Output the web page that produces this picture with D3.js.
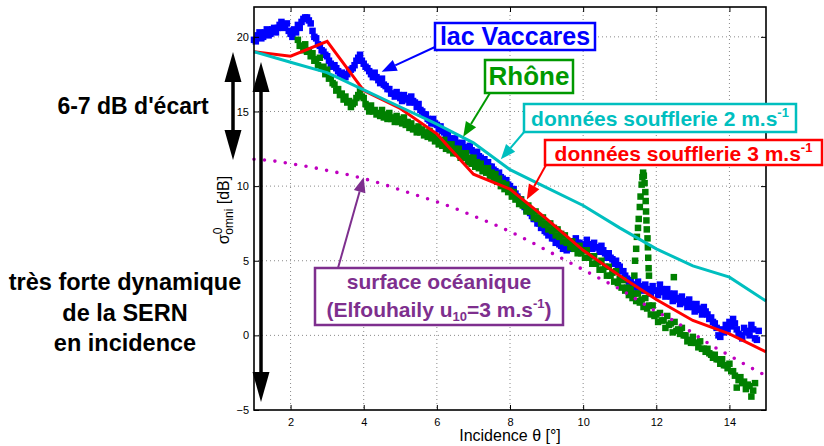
<!doctype html>
<html>
<head>
<meta charset="utf-8">
<title>SERN en incidence</title>
<script src="https://cdnjs.cloudflare.com/ajax/libs/d3/7.8.5/d3.min.js"></script>
<style>
  body { margin: 0; background: #fff; }
  text { font-family: "Liberation Sans", Arial, Helvetica, sans-serif; }
</style>
</head>
<body>
<div id="chart"></div>
<script>
// ---- data ----
// lac Vaccares, incidence 1.0 -> 14.8 by 0.1 deg (one edge of the band)
const vaccaresStart = 1.0;
const vaccaresDb = [
  19.8, 20.1, 19.9, 20.3, 20.1, 20.5, 20.3, 20.8, 20.6, 20.9,
  20.2, 20.5, 20.8, 21.0, 21.3, 21.1, 20.4, 19.9, 19.4, 19.0,
  18.7, 18.2, 18.1, 17.7, 17.6, 17.3, 17.7, 17.9, 18.4, 18.8,
  18.2, 17.9, 17.5, 17.6, 17.1, 17.2, 16.7, 16.5, 16.2, 16.3,
  15.9, 16.1, 15.8, 16.0, 15.6, 15.5, 15.0, 14.8, 14.4, 14.5,
  14.1, 14.0, 13.6, 13.5, 13.1, 13.2, 12.8, 12.9, 12.6, 12.7,
  12.2, 12.3, 11.9, 11.8, 11.6, 11.3, 11.0, 10.9, 10.5, 10.4,
  10.0, 9.8, 9.3, 9.1, 8.6, 8.5, 8.0, 7.8, 7.5, 7.3,
  6.9, 6.8, 6.5, 6.4, 6.0, 5.9, 6.0, 6.3, 6.5, 6.2,
  6.1, 6.4, 6.1, 6.2, 5.9, 6.0, 5.5, 5.5, 5.1, 5.0,
  4.6, 4.3, 3.8, 3.7, 3.4, 3.6, 3.2, 3.4, 3.0, 3.3,
  3.0, 3.4, 2.9, 3.1, 2.6, 2.8, 2.4, 2.6, 2.2, 2.4,
  1.9, 2.1, 1.7, 1.9, 1.4, 1.2, 0.8, 0.0, 0.4, 0.7,
  0.9, 1.1, 0.4, 0.0, 0.5, 0.3, 0.7, -0.2, 0.3
];
// lac Vaccares, 1.05 -> 14.75 by 0.1 deg (other edge of the band)
const vaccaresStartB = 1.05;
const vaccaresDbB = [
  19.7, 20.3, 20.0, 20.5, 20.2, 20.6, 20.6, 21.0, 20.7, 20.4,
  20.0, 20.3, 20.6, 21.2, 21.3, 20.9, 20.0, 19.5, 19.1, 18.8,
  18.4, 18.0, 17.9, 17.5, 17.4, 17.5, 17.8, 18.1, 18.6, 18.4,
  18.0, 17.7, 17.3, 17.3, 16.9, 16.8, 16.5, 16.2, 16.0, 16.1,
  15.7, 15.9, 15.6, 15.7, 15.3, 15.1, 14.8, 14.5, 14.2, 14.2,
  13.8, 13.7, 13.3, 13.2, 12.9, 12.9, 12.6, 12.6, 12.4, 12.4,
  12.0, 12.0, 11.7, 11.5, 11.3, 11.1, 10.8, 10.6, 10.3, 10.1,
  9.7, 9.5, 9.1, 8.8, 8.4, 8.2, 7.8, 7.5, 7.2, 7.0,
  6.7, 6.5, 6.2, 6.1, 5.8, 5.7, 5.8, 6.0, 6.2, 5.9,
  5.8, 6.1, 5.8, 5.9, 5.6, 5.7, 5.2, 5.2, 4.8, 4.7,
  4.3, 4.0, 3.6, 3.4, 3.2, 3.3, 3.0, 3.1, 2.8, 3.0,
  2.7, 3.1, 2.6, 2.8, 2.3, 2.5, 2.1, 2.3, 1.9, 2.1,
  1.6, 1.8, 1.4, 1.6, 1.1, 0.9, 0.5, -0.1, 0.2, 0.4,
  0.6, 0.8, 0.1, -0.2, 0.2, 0.0, 0.4, -0.3
];

// Rhône, incidence 2.2 -> 14.7 by 0.1 deg
const rhoneStart = 2.2;
const rhoneDb = [
  19.8, 19.4, 19.5, 19.1, 18.9, 18.5, 18.6, 18.0, 17.8, 17.3,
  16.8, 16.5, 16.2, 16.0, 15.7, 15.5, 15.9, 16.4, 15.9, 15.3,
  15.4, 15.1, 14.9, 15.1, 14.8, 14.9, 14.6, 14.7, 14.5, 14.6,
  14.3, 14.2, 13.9, 14.0, 13.8, 13.6, 13.7, 13.4, 13.3, 13.0,
  13.1, 12.8, 12.8, 12.5, 12.5, 12.2, 12.2, 11.9, 11.9, 11.6,
  11.5, 11.2, 11.2, 10.9, 10.8, 10.5, 10.2, 10.1, 9.7, 9.6,
  9.2, 9.1, 8.7, 8.7, 8.3, 8.3, 7.9, 7.9, 7.5, 7.5,
  7.2, 7.1, 6.8, 6.7, 6.3, 6.3, 5.9, 6.0, 5.7, 5.7,
  5.3, 5.3, 4.9, 5.0, 4.6, 4.6, 4.2, 4.3, 3.8, 3.7,
  3.2, 3.1, 2.8, 2.8, 2.4, 2.5, 2.0, 2.0, 1.4, 1.5,
  1.0, 1.3, 0.8, 0.9, 0.4, 0.5, 0.0, -0.3, -0.1, -0.5,
  -0.4, -0.9, -0.9, -1.3, -1.3, -1.6, -1.6, -2.0, -1.9, -2.4,
  -3.5, -2.8, -3.1, -3.3, -4.1, -3.2
];
// Rhône, 2.25 -> 14.65 by 0.1 deg (lower edge of the band)
const rhoneStartB = 2.25;
const rhoneDbB = [
  19.4, 19.1, 19.0, 18.7, 18.4, 18.1, 17.9, 17.5, 17.2, 16.9,
  16.4, 16.1, 15.8, 15.6, 15.3, 15.6, 16.1, 16.0, 15.5, 15.0,
  15.0, 14.8, 14.7, 14.6, 14.5, 14.5, 14.3, 14.3, 14.2, 14.1,
  13.9, 13.8, 13.6, 13.6, 13.4, 13.3, 13.2, 13.0, 12.8, 12.7,
  12.5, 12.4, 12.2, 12.2, 11.9, 11.9, 11.6, 11.5, 11.3, 11.2,
  11.0, 10.9, 10.7, 10.5, 10.3, 10.0, 9.8, 9.6, 9.3, 9.1,
  8.8, 8.7, 8.3, 8.3, 7.9, 7.8, 7.5, 7.4, 7.1, 7.0,
  6.7, 6.6, 6.3, 6.2, 5.9, 5.8, 5.5, 5.5, 5.2, 5.2,
  4.8, 4.8, 4.4, 4.4, 4.0, 4.0, 3.6, 3.5, 3.2, 3.0,
  2.7, 2.5, 2.3, 2.2, 1.9, 1.8, 1.4, 1.3, 0.9, 1.0,
  0.5, 0.7, 0.2, 0.3, 0.1, 0.0, -0.4, -0.5, -0.5, -0.8,
  -0.9, -1.1, -1.2, -1.5, -1.6, -1.9, -2.0, -2.2, -2.4, -2.7,
  -3.0, -3.2, -3.6, -3.4, -3.7
];

// Rhône peak near 11.6 deg and stray point, [theta, dB]
const rhoneSpike = [
  [11.40, 4.0], [11.42, 5.0], [11.45, 5.8], [11.47, 6.6], [11.50, 7.2],
  [11.52, 7.8], [11.55, 8.6], [11.57, 9.3], [11.60, 10.1], [11.62, 10.6],
  [11.64, 10.9], [11.66, 10.7], [11.68, 10.2], [11.70, 9.6], [11.71, 9.0],
  [11.72, 8.3], [11.73, 7.7], [11.74, 7.1], [11.76, 6.5], [11.77, 5.9],
  [11.78, 5.2], [11.79, 4.5], [11.80, 4.0], [12.48, 3.9]
];

// wind tunnel data, integer incidences 1..15
const tunnelTheta = [1, 2, 3, 4, 5, 6, 7, 8, 9, 10, 11, 12, 13, 14, 15];
const tunnel2Db = [19.0, 18.3, 17.6, 16.45, 15.3, 14.15, 12.9, 11.1, 9.9, 8.7, 7.2, 5.8, 4.65, 3.9, 2.3];
const tunnel3Db = [19.0, 18.7, 19.7, 16.4, 15.2, 13.5, 10.8, 9.8, 7.8, 5.7, 4.0, 2.4, 1.0, 0.1, -1.1];

// Elfouhaily ocean model, 1..15 by 0.5
const oceanTheta = [1, 1.5, 2, 2.5, 3, 3.5, 4, 4.5, 5, 5.5, 6, 6.5, 7, 7.5, 8,
  8.5, 9, 9.5, 10, 10.5, 11, 11.5, 12, 12.5, 13, 13.5, 14, 14.5, 15];
const oceanDb = [11.8, 11.7, 11.5, 11.3, 11.05, 10.8, 10.5, 10.15, 9.75, 9.35, 8.95, 8.5, 8.0, 7.5, 6.95,
  6.35, 5.7, 5.05, 4.4, 3.75, 3.1, 2.35, 1.6, 0.95, 0.15, -0.65, -1.35, -2.05, -2.7];

const xTicks = [2, 4, 6, 8, 10, 12, 14];
const yTicks = [-5, 0, 5, 10, 15, 20];

// ---- drawing ----
const svg = d3.select('#chart').append('svg')
  .attr('width', 824).attr('height', 446);

const pLeft = 254, pRight = 766, pTop = 7, pBottom = 410;
const x = d3.scaleLinear().domain([1, 15]).range([pLeft, pRight]);
const y = d3.scaleLinear().domain([-5, 22]).range([pBottom, pTop]);

// grid
const grid = svg.append('g').attr('stroke', '#8a8a8a').attr('stroke-width', 1)
  .attr('stroke-dasharray', '1,3');
grid.selectAll('.gx').data(xTicks).join('line')
  .attr('x1', d => x(d)).attr('x2', d => x(d)).attr('y1', pTop).attr('y2', pBottom);
grid.selectAll('.gy').data(yTicks.filter(d => d > -5)).join('line')
  .attr('y1', d => y(d)).attr('y2', d => y(d)).attr('x1', pLeft).attr('x2', pRight);

// scatter
const vacc = vaccaresDb.map((v, i) => [vaccaresStart + i * 0.1, v])
  .concat(vaccaresDbB.map((v, i) => [vaccaresStartB + i * 0.1, v]));
const rhone = rhoneDb.map((v, i) => [rhoneStart + i * 0.1, v])
  .concat(rhoneDbB.map((v, i) => [rhoneStartB + i * 0.1, v]))
  .concat(rhoneSpike);
const sq = 6.5;
svg.append('g').selectAll('rect').data(vacc).join('rect')
  .attr('x', d => x(d[0]) - sq / 2).attr('y', d => y(d[1]) - sq / 2)
  .attr('width', sq).attr('height', sq).attr('fill', '#0000ff');
svg.append('g').selectAll('rect').data(rhone).join('rect')
  .attr('x', d => x(d[0]) - sq / 2).attr('y', d => y(d[1]) - sq / 2)
  .attr('width', sq).attr('height', sq).attr('fill', '#008000');

// lines
const line = d3.line().x(d => x(d[0])).y(d => y(d[1]));
svg.append('path').datum(tunnelTheta.map((t, i) => [t, tunnel3Db[i]]))
  .attr('d', line).attr('fill', 'none').attr('stroke', '#ff0000').attr('stroke-width', 3);
svg.append('path').datum(tunnelTheta.map((t, i) => [t, tunnel2Db[i]]))
  .attr('d', line).attr('fill', 'none').attr('stroke', '#00bfbf').attr('stroke-width', 3);
svg.append('path').datum(oceanTheta.map((t, i) => [t, oceanDb[i]]))
  .attr('d', line.curve(d3.curveMonotoneX)).attr('fill', 'none').attr('stroke', '#bf00bf')
  .attr('stroke-width', 3.6).attr('stroke-linecap', 'round').attr('stroke-dasharray', '0,10.5');

// axes
const fmt = d3.format('d');
svg.append('g').attr('transform', `translate(0,${pBottom})`)
  .call(d3.axisBottom(x).tickValues(xTicks).tickSizeInner(-5).tickSizeOuter(0).tickPadding(8).tickFormat(fmt))
  .call(g => g.select('.domain').remove());
svg.append('g').attr('transform', `translate(${pLeft},0)`)
  .call(d3.axisLeft(y).tickValues(yTicks).tickSizeInner(-5).tickSizeOuter(0).tickPadding(5).tickFormat(fmt))
  .call(g => g.select('.domain').remove());
svg.append('g').attr('transform', `translate(0,${pTop})`)
  .call(d3.axisTop(x).tickValues(xTicks).tickSizeInner(-5).tickSizeOuter(0).tickFormat(''))
  .call(g => g.select('.domain').remove());
svg.append('g').attr('transform', `translate(${pRight},0)`)
  .call(d3.axisRight(y).tickValues(yTicks).tickSizeInner(-5).tickSizeOuter(0).tickFormat(''))
  .call(g => g.select('.domain').remove());
svg.selectAll('.tick text').attr('font-size', 11).attr('fill', '#000')
  .attr('font-family', '"Liberation Sans", Arial, sans-serif');
svg.selectAll('.tick line').attr('stroke', '#000');
svg.append('rect').attr('x', pLeft).attr('y', pTop).attr('width', pRight - pLeft).attr('height', pBottom - pTop)
  .attr('fill', 'none').attr('stroke', '#000').attr('stroke-width', 1.6);

// axis titles
svg.append('text').attr('x', 510).attr('y', 441).attr('text-anchor', 'middle')
  .attr('font-size', 16).text('Incidence θ [°]');
const yl = svg.append('text').attr('transform', 'translate(229,210) rotate(-90)')
  .attr('text-anchor', 'middle').attr('font-size', 16);
yl.append('tspan').text('σ');
yl.append('tspan').attr('font-size', 12).attr('dy', -7).text('0');
yl.append('tspan').attr('font-size', 12).attr('dx', -7).attr('dy', 11).text('omni');
yl.append('tspan').attr('dy', -4).text(' [dB]');

// arrows
function arrow(x1, y1, x2, y2, color, len, half, w) {
  const a = Math.atan2(y2 - y1, x2 - x1);
  const bx = x2 - len * Math.cos(a), by = y2 - len * Math.sin(a);
  svg.append('line').attr('x1', x1).attr('y1', y1).attr('x2', bx).attr('y2', by)
    .attr('stroke', color).attr('stroke-width', w);
  const px = -Math.sin(a) * half, py = Math.cos(a) * half;
  svg.append('path').attr('d', `M${x2},${y2}L${bx + px},${by + py}L${bx - px},${by - py}Z`).attr('fill', color);
}
function doubleArrow(xx, y1, y2) {
  const mid = (y1 + y2) / 2;
  arrow(xx, mid, xx, y1, '#000', 30, 8.5, 3.5);
  arrow(xx, mid, xx, y2, '#000', 30, 8.5, 3.5);
}
doubleArrow(233, 52, 160);
doubleArrow(261, 62, 402);

// labelled boxes
const notes = [
  { lines: ['lac Vaccares'], color: '#0000ff', box: [435, 23, 160, 27], size: 25, base: [45], from: [435, 47], tip: [4.49, 17.67] },
  { lines: ['Rhône'], color: '#009900', box: [485, 60, 88, 33], size: 26, base: [85], from: [490, 93], tip: [6.72, 13.3] },
  { lines: ['données soufflerie 2 m.s'], sup: '-1', color: '#00bfbf', box: [524, 104, 272, 28], size: 21, base: [126], from: [525, 131], tip: [7.75, 11.8] },
  { lines: ['données soufflerie 3 m.s'], sup: '-1', color: '#ff0000', box: [545, 140, 277, 25], size: 21, base: [161], from: [546, 165], tip: [8.46, 9.1] },
  { lines: ['surface océanique', 'elf'], color: '#7e2f8e', box: [315, 268, 248, 57], size: 21, base: [289, 317], from: [338, 268], tip: [4.0, 10.6] }
];
notes.forEach(n => {
  arrow(n.from[0], n.from[1], x(n.tip[0]), y(n.tip[1]), n.color, 15, 6, 2);
});
notes.forEach(n => {
  const [bx, by, bw, bh] = n.box;
  svg.append('rect').attr('x', bx).attr('y', by).attr('width', bw).attr('height', bh)
    .attr('fill', '#fff').attr('stroke', n.color).attr('stroke-width', 2.5);
  n.lines.forEach((s, i) => {
    const t = svg.append('text').attr('x', bx + bw / 2).attr('y', n.base[i])
      .attr('text-anchor', 'middle').attr('font-weight', 'bold').attr('font-size', n.size)
      .attr('fill', n.color);
    if (s === 'elf') {
      t.append('tspan').text('(Elfouhaily u');
      t.append('tspan').attr('font-size', 13).attr('dy', 4).text('10');
      t.append('tspan').attr('dy', -4).text('=3 m.s');
      t.append('tspan').attr('font-size', 13).attr('dy', -9).text('-1');
      t.append('tspan').attr('dy', 9).text(')');
    } else {
      t.append('tspan').text(s);
      if (n.sup) t.append('tspan').attr('font-size', 13).attr('dy', -9).text(n.sup);
    }
  });
});

// side comments
svg.append('text').attr('x', 133).attr('y', 114).attr('text-anchor', 'middle')
  .attr('font-weight', 'bold').attr('font-size', 23).text("6-7 dB d'écart");
['très forte dynamique', 'de la SERN', 'en incidence'].forEach((s, i) => {
  svg.append('text').attr('x', 125).attr('y', 290 + i * 30.5).attr('text-anchor', 'middle')
    .attr('font-weight', 'bold').attr('font-size', 23.5).text(s);
});
</script>
</body>
</html>
